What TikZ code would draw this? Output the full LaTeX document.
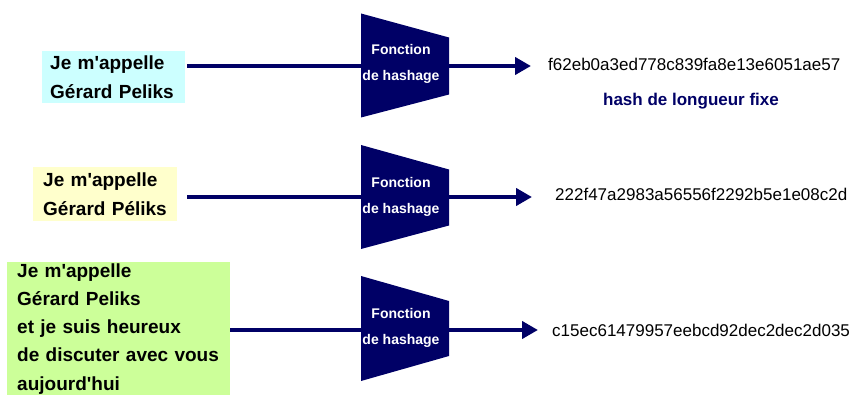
\documentclass[tikz,border=0pt]{standalone}
\usepackage{fontspec}
\setmainfont{Liberation Sans}
\usetikzlibrary{arrows.meta}
\definecolor{marine}{HTML}{000066}
\definecolor{ciel}{HTML}{CCFFFF}
\definecolor{paille}{HTML}{FFFFCC}
\definecolor{pomme}{HTML}{CCFF99}
\tikzset{
  msg/.style={anchor=north west, inner ysep=0pt, align=left,
    font=\bfseries\fontsize{19}{29}\selectfont},
  fntext/.style={text=white, align=center, inner sep=0pt,
    font=\bfseries\fontsize{14}{26.5}\selectfont},
  hashtext/.style={anchor=west, inner sep=0pt, font=\fontsize{17}{20}\selectfont},
  link/.style={draw=marine, line width=4pt},
  tip/.style={link, -{Triangle[length=16pt,width=17pt]}},
}
\begin{document}
\begin{tikzpicture}[x=1pt,y=-1pt]
\useasboundingbox (0,0) rectangle (851,395);
% messages
\node[msg, fill=ciel, minimum width=143, minimum height=52, inner xsep=8pt, text width=127pt] (box1) at (42,51)
  {Je m\textquotesingle appelle\\Gérard Peliks};
\node[msg, fill=paille, minimum width=144, minimum height=54, inner xsep=10pt, text width=124pt] (box2) at (33,167)
  {Je m\textquotesingle appelle\\Gérard Péliks};
\node[msg, fill=pomme, minimum width=223, minimum height=133, inner xsep=10pt, text width=203pt,
  font=\bfseries\fontsize{19}{28.3}\selectfont] (box3) at (7,262)
  {Je m\textquotesingle appelle\\Gérard Peliks\\et je suis heureux\\de discuter avec vous\\aujourd\textquotesingle hui};
% fonctions de hashage
\fill[marine] (361,13.5) -- (449,37.5) -- (449,94.5) -- (361,117.5) -- cycle;
\coordinate (fn1w) at (361,66);
\coordinate (fn1e) at (449,66);
\node[fntext] (fn1) at (401,64) {Fonction\\de hashage};
\fill[marine] (361,145) -- (449,169.5) -- (449,225.5) -- (361,249) -- cycle;
\coordinate (fn2w) at (361,197);
\coordinate (fn2e) at (449,197);
\node[fntext] (fn2) at (401,197) {Fonction\\de hashage};
\fill[marine] (361,276) -- (449,301) -- (449,356) -- (361,381) -- cycle;
\coordinate (fn3w) at (361,330);
\coordinate (fn3e) at (449,330);
\node[fntext] (fn3) at (401,328) {Fonction\\de hashage};
% empreintes
\node[hashtext] (hash1) at (548,64) {f62eb0a3ed778c839fa8e13e6051ae57};
\node[hashtext] (hash2) at (555,194) {222f47a2983a56556f2292b5e1e08c2d};
\node[hashtext] (hash3) at (552,330) {c15ec61479957eebcd92dec2dec2d035};
\node[text=marine, font=\bfseries\fontsize{17}{20}\selectfont] (note) at (691,101) {hash de longueur fixe};
% liaisons
\draw[link] (box1.east |- fn1w) ++(2,0) -- (fn1w);
\draw[tip, shorten >=17pt] (fn1e) -- (hash1.west |- fn1e);
\draw[link] (box2.east |- fn2w) ++(10,0) -- (fn2w);
\draw[tip, shorten >=23pt] (fn2e) -- (hash2.west |- fn2e);
\draw[link] (box3.east |- fn3w) -- (fn3w);
\draw[tip, shorten >=14pt] (fn3e) -- (hash3.west |- fn3e);
\end{tikzpicture}
\end{document}
